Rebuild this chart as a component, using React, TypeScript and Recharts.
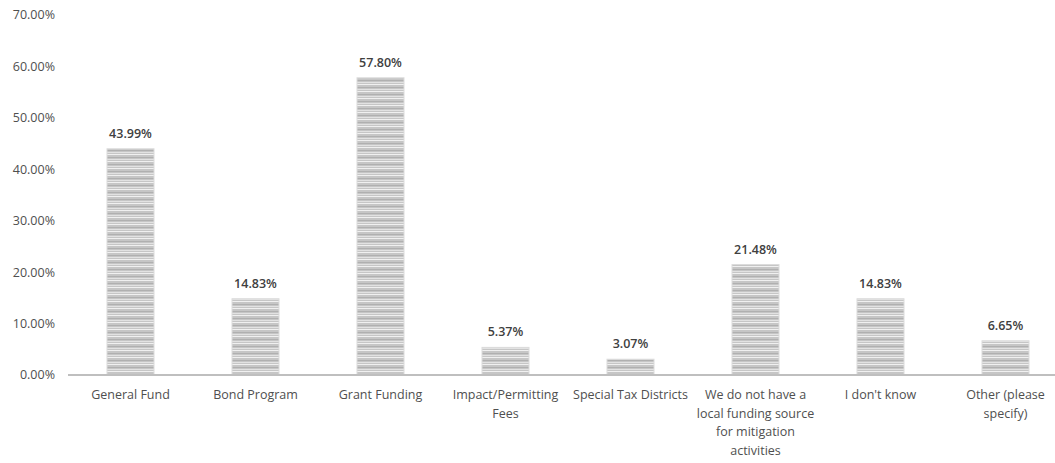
import React from "react";
import { BarChart, Bar, XAxis, YAxis, LabelList } from "recharts";

const categories = [
  "General Fund",
  "Bond Program",
  "Grant Funding",
  "Impact/Permitting Fees",
  "Special Tax Districts",
  "We do not have a local funding source for mitigation activities",
  "I don't know",
  "Other (please specify)",
];
const categoryLines: string[][] = [
  ["General Fund"],
  ["Bond Program"],
  ["Grant Funding"],
  ["Impact/Permitting", "Fees"],
  ["Special Tax Districts"],
  ["We do not have a", "local funding source", "for mitigation", "activities"],
  ["I don't know"],
  ["Other (please", "specify)"],
];
const values = [43.99, 14.83, 57.8, 5.37, 3.07, 21.48, 14.83, 6.65];
const yTicks = [0, 10, 20, 30, 40, 50, 60, 70];

const data = categories.map((c, i) => ({ name: c, value: values[i], idx: i }));

const FONT = "'Open Sans', 'Liberation Sans', sans-serif";

const CategoryTick = (props: any) => {
  const { x, y, payload } = props;
  const lines = categoryLines[payload.index] ?? [String(payload.value)];
  return (
    <text
      x={x}
      y={y + 24}
      textAnchor="middle"
      fill="#4f4f4f"
      fontSize={12.5}
      fontFamily={FONT}
    >
      {lines.map((l, i) => (
        <tspan key={i} x={x} dy={i === 0 ? 0 : 18.5}>
          {l}
        </tspan>
      ))}
    </text>
  );
};

const StripedBar = (props: any) => {
  const { x, y, width, height } = props;
  if (!height || height <= 0) return null;
  return (
    <g>
      <defs>
        <pattern
          id="hstripes"
          patternUnits="userSpaceOnUse"
          width={8}
          height={7}
        >
          <rect x={0} y={0} width={8} height={7} fill="#c6c6c6" />
          <rect x={0} y={0} width={8} height={1} fill="#f0f0f0" />
          <rect x={0} y={3} width={8} height={1} fill="#b0b0b0" />
          <rect x={0} y={5} width={8} height={1} fill="#e2e2e2" />
        </pattern>
      </defs>
      <rect
        x={x}
        y={y}
        width={width}
        height={height}
        fill="url(#hstripes)"
        stroke="#dcdcdc"
        strokeWidth={1}
      />
    </g>
  );
};

export default function App() {
  return (
    <div
      style={{
        position: "fixed",
        left: 0,
        top: 0,
        width: 1055,
        height: 463,
        overflow: "hidden",
        background: "#fff",
      }}
    >
      <BarChart
        width={1070}
        height={463}
        data={data}
        margin={{ top: 15, right: 2, bottom: 0, left: 0 }}
        barCategoryGap="31.2%"
      >
        <YAxis
          type="number"
          domain={[0, 70]}
          ticks={yTicks}
          width={68}
          axisLine={false}
          tickLine={false}
          tickSize={0}
          tickMargin={13}
          tickFormatter={(v: number) => `${v.toFixed(2)}%`}
          tick={{ fill: "#4f4f4f", fontSize: 12.5, fontFamily: FONT }}
        />
        <XAxis
          dataKey="name"
          height={88}
          interval={0}
          tickLine={false}
          tickSize={0}
          tickMargin={0}
          axisLine={{ stroke: "#bfbfbf", strokeWidth: 2 }}
          tick={<CategoryTick />}
        />
        <Bar
          dataKey="value"
          isAnimationActive={false}
          shape={<StripedBar />}
        >
          <LabelList
            dataKey="value"
            position="top"
            offset={11}
            fill="#404040"
            fontSize={12.5}
            fontWeight={600}
            fontFamily={FONT}
            formatter={(v: any) => `${Number(v).toFixed(2)}%`}
          />
        </Bar>
      </BarChart>
    </div>
  );
}
